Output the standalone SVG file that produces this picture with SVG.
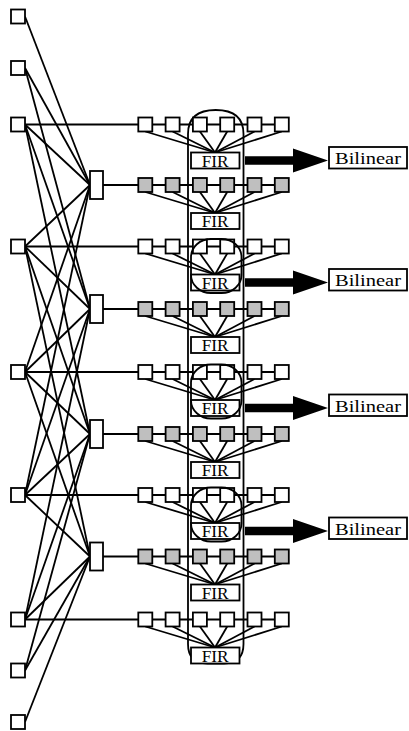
<svg xmlns="http://www.w3.org/2000/svg" xmlns:xlink="http://www.w3.org/1999/xlink" width="409" height="731" viewBox="0 0 409 731">
<style>
.ln{stroke:#000;stroke-width:1.8;fill:none}
.sq{fill:#fff;stroke:#000;stroke-width:1.8}
.gq{fill:#bfbfbf;stroke:#000;stroke-width:1.8}
.box{fill:#fff;stroke:#000;stroke-width:1.8}
.ov{fill:none;stroke:#000;stroke-width:1.8}
.fir{font-family:"Liberation Serif","Times New Roman",serif;font-size:17px;text-anchor:middle}
.bil{font-family:"Liberation Serif","Times New Roman",serif;font-size:17px;text-anchor:middle}
</style>
<defs>
<g id="fan">
<line class="ln" x1="145.3" y1="7" x2="215" y2="28"/>
<line class="ln" x1="172.6" y1="7" x2="215" y2="28"/>
<line class="ln" x1="199.9" y1="7" x2="215" y2="28"/>
<line class="ln" x1="227.2" y1="7" x2="215" y2="28"/>
<line class="ln" x1="254.5" y1="7" x2="215" y2="28"/>
<line class="ln" x1="281.8" y1="7" x2="215" y2="28"/>
</g>
<g id="wsq">
<rect class="sq" x="138.3" y="-7" width="14" height="14"/>
<rect class="sq" x="165.6" y="-7" width="14" height="14"/>
<rect class="sq" x="192.9" y="-7" width="14" height="14"/>
<rect class="sq" x="220.2" y="-7" width="14" height="14"/>
<rect class="sq" x="247.5" y="-7" width="14" height="14"/>
<rect class="sq" x="274.8" y="-7" width="14" height="14"/>
</g>
<g id="gsq">
<rect class="gq" x="138.3" y="-7" width="14" height="14"/>
<rect class="gq" x="165.6" y="-7" width="14" height="14"/>
<rect class="gq" x="192.9" y="-7" width="14" height="14"/>
<rect class="gq" x="220.2" y="-7" width="14" height="14"/>
<rect class="gq" x="247.5" y="-7" width="14" height="14"/>
<rect class="gq" x="274.8" y="-7" width="14" height="14"/>
</g>
<g id="firbox">
<rect class="box" x="191" y="28" width="48.5" height="16"/>
<text class="fir" x="215.2" y="42.2" textLength="27" lengthAdjust="spacingAndGlyphs">FIR</text>
</g>
</defs>

<!-- big enclosing rounded column -->
<path id="column" class="ov" d="M188,134 Q188,110 215.75,110 Q243.5,110 243.5,134 L243.5,644 Q243.5,663.5 224,663.5 L207.5,663.5 Q188,663.5 188,644 Z"/>

<g id="connectors">
<line class="ln" x1="25" y1="16.5" x2="90" y2="185"/>
<line class="ln" x1="25" y1="68" x2="90" y2="185"/>
<line class="ln" x1="25" y1="124.5" x2="90" y2="185"/>
<line class="ln" x1="25" y1="246.5" x2="90" y2="185"/>
<line class="ln" x1="25" y1="372" x2="90" y2="185"/>
<line class="ln" x1="25" y1="495" x2="90" y2="185"/>

<line class="ln" x1="25" y1="68" x2="90" y2="309"/>
<line class="ln" x1="25" y1="124.5" x2="90" y2="309"/>
<line class="ln" x1="25" y1="246.5" x2="90" y2="309"/>
<line class="ln" x1="25" y1="372" x2="90" y2="309"/>
<line class="ln" x1="25" y1="495" x2="90" y2="309"/>
<line class="ln" x1="25" y1="619.5" x2="90" y2="309"/>

<line class="ln" x1="25" y1="124.5" x2="90" y2="434"/>
<line class="ln" x1="25" y1="246.5" x2="90" y2="434"/>
<line class="ln" x1="25" y1="372" x2="90" y2="434"/>
<line class="ln" x1="25" y1="495" x2="90" y2="434"/>
<line class="ln" x1="25" y1="619.5" x2="90" y2="434"/>
<line class="ln" x1="25" y1="670.5" x2="90" y2="434"/>

<line class="ln" x1="25" y1="246.5" x2="90" y2="556.5"/>
<line class="ln" x1="25" y1="372" x2="90" y2="556.5"/>
<line class="ln" x1="25" y1="495" x2="90" y2="556.5"/>
<line class="ln" x1="25" y1="619.5" x2="90" y2="556.5"/>
<line class="ln" x1="25" y1="670.5" x2="90" y2="556.5"/>
<line class="ln" x1="25" y1="722" x2="90" y2="556.5"/>

<line class="ln" x1="25" y1="124.5" x2="282" y2="124.5" stroke-width="2.2"/>
<line class="ln" x1="103" y1="185" x2="282" y2="185"/>
<line class="ln" x1="25" y1="246.5" x2="282" y2="246.5" stroke-width="2.2"/>
<line class="ln" x1="103" y1="309" x2="282" y2="309"/>
<line class="ln" x1="25" y1="372" x2="282" y2="372" stroke-width="2.2"/>
<line class="ln" x1="103" y1="434" x2="282" y2="434"/>
<line class="ln" x1="25" y1="495" x2="282" y2="495" stroke-width="2.2"/>
<line class="ln" x1="103" y1="556.5" x2="282" y2="556.5"/>
<line class="ln" x1="25" y1="619.5" x2="282" y2="619.5" stroke-width="2.2"/>

<use xlink:href="#fan" href="#fan" transform="translate(0,124.5)"/>
<use xlink:href="#fan" href="#fan" transform="translate(0,185)"/>
<use xlink:href="#fan" href="#fan" transform="translate(0,246.5)"/>
<use xlink:href="#fan" href="#fan" transform="translate(0,309)"/>
<use xlink:href="#fan" href="#fan" transform="translate(0,372)"/>
<use xlink:href="#fan" href="#fan" transform="translate(0,434)"/>
<use xlink:href="#fan" href="#fan" transform="translate(0,495)"/>
<use xlink:href="#fan" href="#fan" transform="translate(0,556.5)"/>
<use xlink:href="#fan" href="#fan" transform="translate(0,619.5)"/>

<polygon points="245,156.2 293,156.2 293,148.5 328,160.5 293,172.5 293,164.8 245,164.8" fill="#000"/>
<polygon points="245,278.2 293,278.2 293,270.5 328,282.5 293,294.5 293,286.8 245,286.8" fill="#000"/>
<polygon points="245,403.7 293,403.7 293,396 328,408 293,420 293,412.3 245,412.3" fill="#000"/>
<polygon points="245,526.7 293,526.7 293,519 328,531 293,543 293,535.3 245,535.3" fill="#000"/>
</g>

<g id="in1"><rect class="sq" x="11" y="9.5" width="14" height="14"/></g>
<g id="in2"><rect class="sq" x="11" y="61" width="14" height="14"/></g>
<g id="in3"><rect class="sq" x="11" y="117.5" width="14" height="14"/></g>
<g id="in4"><rect class="sq" x="11" y="239.5" width="14" height="14"/></g>
<g id="in5"><rect class="sq" x="11" y="365" width="14" height="14"/></g>
<g id="in6"><rect class="sq" x="11" y="488" width="14" height="14"/></g>
<g id="in7"><rect class="sq" x="11" y="612.5" width="14" height="14"/></g>
<g id="in8"><rect class="sq" x="11" y="663.5" width="14" height="14"/></g>
<g id="in9"><rect class="sq" x="11" y="715" width="14" height="14"/></g>

<g id="mid1"><rect class="box" x="90" y="171" width="13" height="28"/></g>
<g id="mid2"><rect class="box" x="90" y="295" width="13" height="28"/></g>
<g id="mid3"><rect class="box" x="90" y="420" width="13" height="28"/></g>
<g id="mid4"><rect class="box" x="90" y="542.5" width="13" height="28"/></g>

<g id="row1"><use xlink:href="#wsq" href="#wsq" transform="translate(0,124.5)"/><use xlink:href="#firbox" href="#firbox" transform="translate(0,124.5)"/></g>
<g id="row2"><use xlink:href="#gsq" href="#gsq" transform="translate(0,185)"/><use xlink:href="#firbox" href="#firbox" transform="translate(0,185)"/></g>
<g id="row3"><use xlink:href="#wsq" href="#wsq" transform="translate(0,246.5)"/><use xlink:href="#firbox" href="#firbox" transform="translate(0,246.5)"/><rect class="ov" x="191" y="239" width="50.5" height="54" rx="20" ry="18"/></g>
<g id="row4"><use xlink:href="#gsq" href="#gsq" transform="translate(0,309)"/><use xlink:href="#firbox" href="#firbox" transform="translate(0,309)"/></g>
<g id="row5"><use xlink:href="#wsq" href="#wsq" transform="translate(0,372)"/><use xlink:href="#firbox" href="#firbox" transform="translate(0,372)"/><rect class="ov" x="191" y="364.5" width="50.5" height="54" rx="20" ry="18"/></g>
<g id="row6"><use xlink:href="#gsq" href="#gsq" transform="translate(0,434)"/><use xlink:href="#firbox" href="#firbox" transform="translate(0,434)"/></g>
<g id="row7"><use xlink:href="#wsq" href="#wsq" transform="translate(0,495)"/><use xlink:href="#firbox" href="#firbox" transform="translate(0,495)"/><rect class="ov" x="191" y="487.5" width="50.5" height="54" rx="20" ry="18"/></g>
<g id="row8"><use xlink:href="#gsq" href="#gsq" transform="translate(0,556.5)"/><use xlink:href="#firbox" href="#firbox" transform="translate(0,556.5)"/></g>
<g id="row9"><use xlink:href="#wsq" href="#wsq" transform="translate(0,619.5)"/><use xlink:href="#firbox" href="#firbox" transform="translate(0,619.5)"/></g>

<g id="bil1"><rect class="box" x="329" y="147" width="78" height="21.5"/><text class="bil" x="368" y="164" textLength="66" lengthAdjust="spacingAndGlyphs">Bilinear</text></g>
<g id="bil2"><rect class="box" x="329" y="269" width="78" height="21.5"/><text class="bil" x="368" y="286" textLength="66" lengthAdjust="spacingAndGlyphs">Bilinear</text></g>
<g id="bil3"><rect class="box" x="329" y="394.5" width="78" height="21.5"/><text class="bil" x="368" y="411.5" textLength="66" lengthAdjust="spacingAndGlyphs">Bilinear</text></g>
<g id="bil4"><rect class="box" x="329" y="517.5" width="78" height="21.5"/><text class="bil" x="368" y="534.5" textLength="66" lengthAdjust="spacingAndGlyphs">Bilinear</text></g>
</svg>
